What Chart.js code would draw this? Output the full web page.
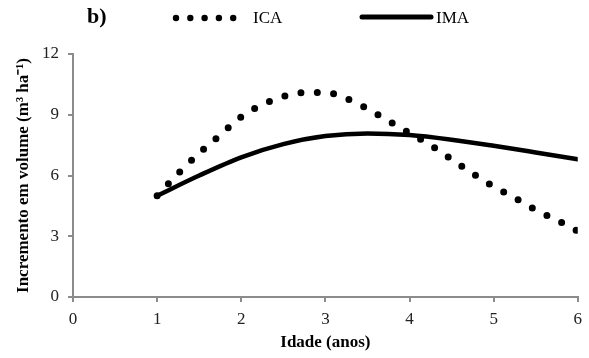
<!DOCTYPE html>
<html>
<head>
<meta charset="utf-8">
<script src="https://cdn.jsdelivr.net/npm/chart.js@4"></script>
<style>
  body { margin: 0; background: #fff; }
  #wrap { width: 589px; height: 358px; position: relative; }
</style>
</head>
<body>
<div id="wrap"><canvas id="chart"></canvas></div>
<script>
// ICA (current annual increment)
const icaAge = [1, 1.25, 1.5, 1.75, 2, 2.25, 2.5, 2.75, 3, 3.25, 3.5, 3.75, 4, 4.25, 4.5, 4.75, 5, 5.25, 5.5, 5.75, 6];
const icaValues = [5.0, 6.1, 7.1, 8.0, 8.9, 9.5, 9.9, 10.1, 10.1, 9.8, 9.3, 8.7, 8.1, 7.5, 6.8, 6.1, 5.45, 4.9, 4.3, 3.8, 3.25];
// IMA (mean annual increment)
const imaAge = [1, 1.5, 2, 2.5, 3, 3.5, 4, 4.5, 5, 5.5, 6];
const imaValues = [5.0, 6.0, 6.9, 7.55, 7.95, 8.08, 8.0, 7.77, 7.47, 7.14, 6.8];
const xTicks = [0, 1, 2, 3, 4, 5, 6];
const yTicks = [0, 3, 6, 9, 12];

const serif = '"Liberation Serif", "Times New Roman", serif';
const axisGray = '#8c8c8c';

const legendPlugin = {
  id: 'topLegend',
  afterDraw(chart) {
    const ctx = chart.ctx;
    ctx.save();
    ctx.fillStyle = '#000';
    ctx.textBaseline = 'middle';
    ctx.font = 'bold 22px ' + serif;
    ctx.fillText('b)', 87, 17);
    // dotted sample
    for (let i = 0; i < 5; i++) {
      ctx.beginPath();
      ctx.arc(176 + i * 14.3, 18, 3.2, 0, Math.PI * 2);
      ctx.fill();
    }
    ctx.font = '17px ' + serif;
    ctx.fillText('ICA', 253, 19);
    // solid sample
    ctx.strokeStyle = '#000';
    ctx.lineWidth = 5;
    ctx.lineCap = 'round';
    ctx.beginPath();
    ctx.moveTo(362, 17);
    ctx.lineTo(431, 17);
    ctx.stroke();
    ctx.fillText('IMA', 436, 19);
    ctx.restore();
  }
};

new Chart(document.getElementById('chart'), {
  type: 'line',
  data: {
    datasets: [
      {
        label: 'ICA',
        data: icaAge.map((x, i) => ({ x, y: icaValues[i] })),
        borderColor: '#000',
        borderWidth: 7,
        borderDash: [0, 16.4],
        borderCapStyle: 'round',
        pointRadius: 0,
        cubicInterpolationMode: 'monotone',
        fill: false
      },
      {
        label: 'IMA',
        data: imaAge.map((x, i) => ({ x, y: imaValues[i] })),
        borderColor: '#000',
        borderWidth: 4.5,
        borderCapStyle: 'round',
        pointRadius: 0,
        cubicInterpolationMode: 'monotone',
        fill: false
      }
    ]
  },
  options: {
    responsive: true,
    maintainAspectRatio: false,
    animation: false,
    layout: { padding: { top: 54, right: 10, left: 0, bottom: 0 } },
    plugins: {
      legend: { display: false },
      tooltip: { enabled: false }
    },
    scales: {
      x: {
        type: 'linear',
        min: 0,
        max: 6,
        afterFit: s => { s.height = 61; },
        afterBuildTicks: s => { s.ticks = xTicks.map(v => ({ value: v })); },
        border: { color: axisGray, width: 2 },
        grid: { drawOnChartArea: false, drawTicks: true, tickLength: 5, color: axisGray, lineWidth: 2 },
        ticks: { color: '#222', font: { family: serif, size: 17 }, padding: 7 },
        title: {
          display: true,
          text: 'Idade (anos)',
          color: '#000',
          font: { family: serif, size: 17, weight: 'bold' },
          padding: { top: 0, bottom: 5 }
        }
      },
      y: {
        min: 0,
        max: 12,
        afterFit: s => { s.width = 73; },
        afterBuildTicks: s => { s.ticks = yTicks.map(v => ({ value: v })); },
        border: { color: axisGray, width: 2 },
        grid: { drawOnChartArea: false, drawTicks: true, tickLength: 5, color: axisGray, lineWidth: 2 },
        ticks: { color: '#222', font: { family: serif, size: 17 }, padding: 9 },
        title: {
          display: true,
          text: 'Incremento em volume (m³ ha⁻¹)',
          color: '#000',
          font: { family: serif, size: 17, weight: 'bold' },
          padding: { top: 13, bottom: 0 }
        }
      }
    }
  },
  plugins: [legendPlugin]
});
</script>
</body>
</html>
